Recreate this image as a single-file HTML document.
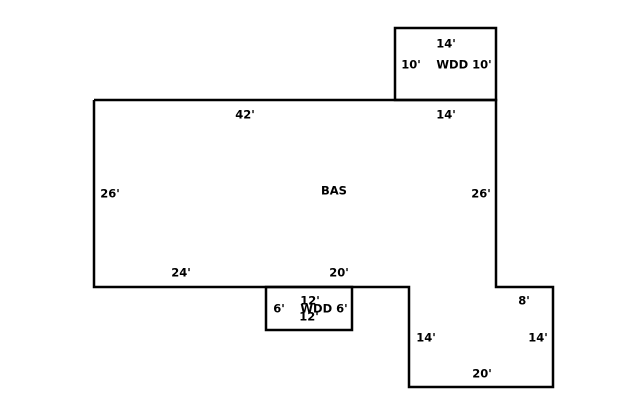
<!DOCTYPE html>
<html><head><meta charset="utf-8"><style>
html,body{margin:0;padding:0;background:#fff;width:640px;height:415px;overflow:hidden}
text{font-family:"DejaVu Sans","Liberation Sans",sans-serif;font-weight:bold;font-size:11.5px;fill:#000;text-anchor:middle;dominant-baseline:middle}
</style></head><body>
<svg width="640" height="415" xmlns="http://www.w3.org/2000/svg">
<g fill="none" stroke="#000" stroke-width="2.5">
<polyline points="94,100 496,100 496,287 553,287 553,387 409,387 409,287 94,287 94,100"/>
<rect x="395" y="28" width="101" height="72"/>
<rect x="266" y="287" width="86" height="43"/>
</g>
<text x="446" y="44">14'</text>
<text x="411" y="65">10'</text>
<text x="464" y="65">WDD 10'</text>
<text x="446" y="115">14'</text>
<text x="245" y="115">42'</text>
<text x="110" y="194">26'</text>
<text x="334" y="191">BAS</text>
<text x="481" y="194">26'</text>
<text x="181" y="273">24'</text>
<text x="339" y="273">20'</text>
<text x="310" y="301">12'</text>
<text x="279" y="309">6'</text>
<text x="324" y="309">WDD 6'</text>
<text x="309" y="317">12'</text>
<text x="524" y="301">8'</text>
<text x="426" y="338">14'</text>
<text x="538" y="338">14'</text>
<text x="482" y="374">20'</text>
</g>
</svg>
</body></html>
